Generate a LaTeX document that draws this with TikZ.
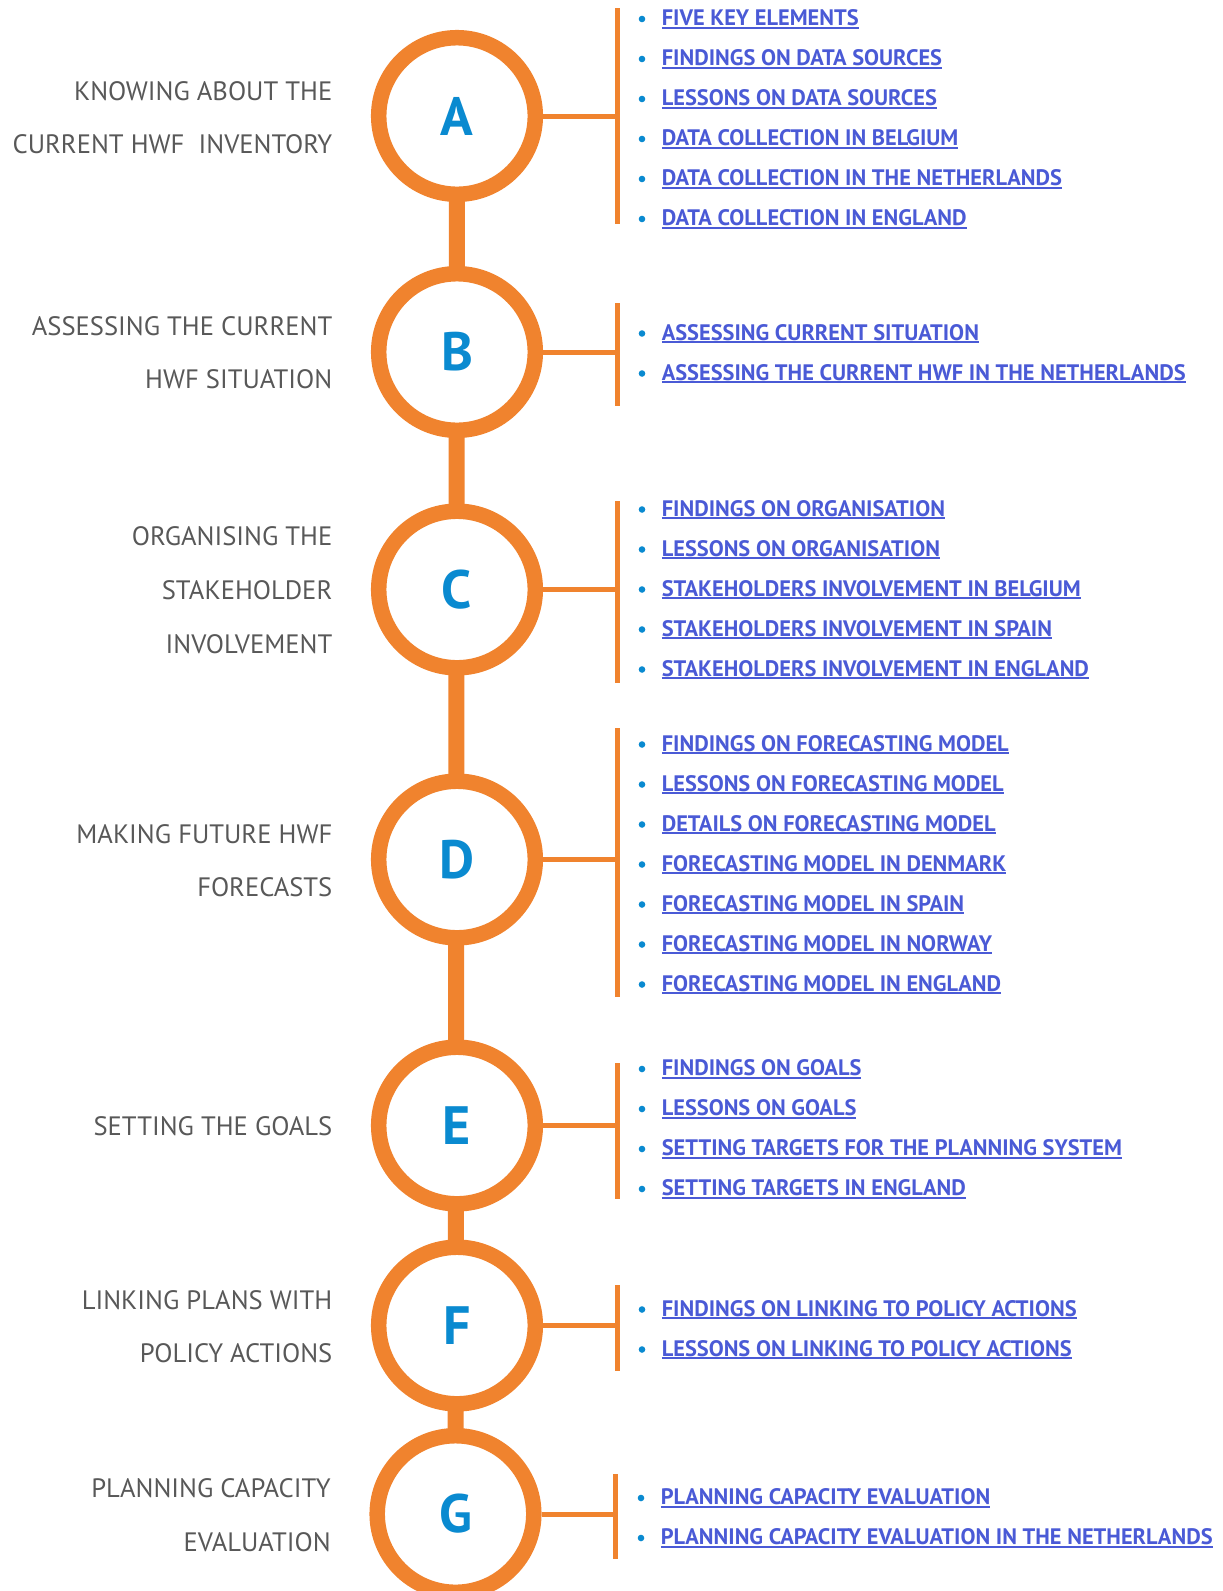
\documentclass[tikz,border=0pt]{standalone}
\usepackage{fontspec}
\setmainfont{PT Sans}
\usetikzlibrary{backgrounds}
\definecolor{org}{RGB}{240,131,46}
\definecolor{lnkc}{RGB}{74,90,214}
\definecolor{dotc}{RGB}{10,138,208}
\definecolor{grayt}{RGB}{88,88,88}
\newcommand\ulk[1]{\setbox0\hbox{#1}\rlap{\rule[-3pt]{\wd0}{1.8pt}}\box0}
\newcommand\items[4]{%
  \foreach \t [count=\i] in {#4} {%
    \pgfmathsetmacro\yy{-(#2+40*(\i-1))}%
    \node[lnk] (#1\i) at (661.6+#3,\yy) {\ulk{\t}};
    \node[dot] (#1d\i) at (642+#3,\yy+6.5) {};
  }}
\begin{document}
\begin{tikzpicture}[x=1pt,y=1pt,
  ring/.style={circle, draw=org, line width=15.5pt, fill=white, minimum size=156.6pt, inner sep=0pt, text=dotc, font=\fontsize{54}{54}\selectfont\bfseries},
  lab/.style={anchor=base east, text=grayt, font=\fontsize{26.6}{27}\selectfont, inner sep=0pt},
  lnk/.style={anchor=base west, text=lnkc, font=\fontsize{22.4}{23}\selectfont\bfseries, inner sep=0pt},
  dot/.style={circle, fill=dotc, minimum size=6.6pt, inner sep=0pt},
  brk/.style={draw=org, line width=5pt},
  spine/.style={draw=org, line width=16pt}]
\useasboundingbox (0,0) rectangle (1223,-1591);
\clip (0,0) rectangle (1223,-1591);

% circles
\node[ring] (A) at (457,-116) {A};
\node[ring] (B) at (457,-352) {B};
\node[ring] (C) at (457,-589.5) {C};
\node[ring] (D) at (457,-859.5) {D};
\node[ring] (E) at (457,-1125.5) {E};
\node[ring] (F) at (457,-1325.5) {F};
\node[ring] (G) at (455.5,-1514) {G};

% bracket coordinates
\coordinate (At) at (617.5,-8);    \coordinate (Ab) at (617.5,-224);  \coordinate (Aj) at (617.5,-116);
\coordinate (Bt) at (617.5,-303);  \coordinate (Bb) at (617.5,-406);  \coordinate (Bj) at (617.5,-352);
\coordinate (Ct) at (617.5,-501);  \coordinate (Cb) at (617.5,-683);  \coordinate (Cj) at (617.5,-589.5);
\coordinate (Dt) at (617.5,-728);  \coordinate (Db) at (617.5,-997);  \coordinate (Dj) at (617.5,-859.5);
\coordinate (Et) at (617.5,-1063); \coordinate (Eb) at (617.5,-1199); \coordinate (Ej) at (617.5,-1125.5);
\coordinate (Ft) at (617.5,-1285); \coordinate (Fb) at (617.5,-1371); \coordinate (Fj) at (617.5,-1325.5);
\coordinate (Gt) at (615.6,-1474); \coordinate (Gb) at (615.6,-1559); \coordinate (Gj) at (615.6,-1514);

\begin{scope}[on background layer]
  \draw[spine] (A.center) -- (G.center);
  \foreach \n in {A,B,C,D,E,F,G} {
    \draw[brk] (\n t) -- (\n b);
    \draw[brk] (\n) -- (\n j);
  }
\end{scope}

% left labels
\node[lab] (la1) at (332.5,-100) {KNOWING ABOUT THE};
\node[lab] (la2) at (332.5,-153) {CURRENT HWF~ INVENTORY};
\node[lab] (lb1) at (332.5,-335) {ASSESSING THE CURRENT};
\node[lab] (lb2) at (332.5,-388) {HWF SITUATION};
\node[lab] (lc1) at (332.5,-545) {ORGANISING THE};
\node[lab] (lc2) at (332.5,-599) {STAKEHOLDER};
\node[lab] (lc3) at (332.5,-653) {INVOLVEMENT};
\node[lab] (ld1) at (332.5,-843) {MAKING FUTURE HWF};
\node[lab] (ld2) at (332.5,-896.5) {FORECASTS};
\node[lab] (le1) at (332.5,-1135) {SETTING THE GOALS};
\node[lab] (lf1) at (332.5,-1309) {LINKING PLANS WITH};
\node[lab] (lf2) at (332.5,-1362) {POLICY ACTIONS};
\node[lab] (lg1) at (331,-1497) {PLANNING CAPACITY};
\node[lab] (lg2) at (331,-1551) {EVALUATION};

% link lists
\items{a}{25.5}{0}{FIVE KEY ELEMENTS,FINDINGS ON DATA SOURCES,LESSONS ON DATA SOURCES,DATA COLLECTION IN BELGIUM,DATA COLLECTION IN THE NETHERLANDS,DATA COLLECTION IN ENGLAND}
\items{b}{340}{0}{ASSESSING CURRENT SITUATION,ASSESSING THE CURRENT HWF IN THE NETHERLANDS}
\items{c}{516}{0}{FINDINGS ON ORGANISATION,LESSONS ON ORGANISATION,STAKEHOLDERS INVOLVEMENT IN BELGIUM,STAKEHOLDERS INVOLVEMENT IN SPAIN,STAKEHOLDERS INVOLVEMENT IN ENGLAND}
\items{d}{751}{0}{FINDINGS ON FORECASTING MODEL,LESSONS ON FORECASTING MODEL,DETAILS ON FORECASTING MODEL,FORECASTING MODEL IN DENMARK,FORECASTING MODEL IN SPAIN,FORECASTING MODEL IN NORWAY,FORECASTING MODEL IN ENGLAND}
\items{e}{1075.5}{0}{FINDINGS ON GOALS,LESSONS ON GOALS,SETTING TARGETS FOR THE PLANNING SYSTEM,SETTING TARGETS IN ENGLAND}
\items{f}{1316}{0}{FINDINGS ON LINKING TO POLICY ACTIONS,LESSONS ON LINKING TO POLICY ACTIONS}
\items{g}{1504.5}{-1}{PLANNING CAPACITY EVALUATION,PLANNING CAPACITY EVALUATION IN THE NETHERLANDS}
\end{tikzpicture}
\end{document}
